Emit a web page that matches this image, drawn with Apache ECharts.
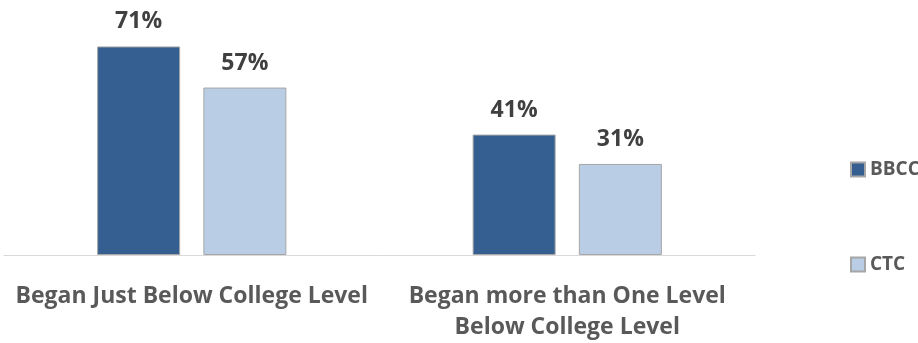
<!DOCTYPE html>
<html>
<head>
<meta charset="utf-8">
<script src="https://cdn.jsdelivr.net/npm/echarts@6/dist/echarts.min.js"></script>
<style>
  html, body { margin: 0; padding: 0; background: #fff; }
  #chart { width: 918px; height: 343px; }
</style>
</head>
<body>
<div id="chart"></div>
<script>
"use strict";
var categories = ['Began Just Below College Level', 'Began more than One Level\nBelow College Level'];
var seriesNames = ['BBCC', 'CTC'];
var bbcc = [71, 41];
var ctc = [57, 31];
var colors = ['#365f91', '#b9cde5'];

var font = '"Open Sans", Lato, sans-serif';

function makeSeries(name, data, color){
	return {
		name: name, type: 'bar', data: data,
		barWidth: 83, barGap: '28%',
		itemStyle: { color: color, borderColor: '#a6a6a6', borderWidth: 1 },
		label: { show: true, position: 'top', distance: 13,
			formatter: '{c}%', color: '#404040', fontWeight: 'bold', fontSize: 23, fontFamily: font }
	};
}

var chart = echarts.init(document.getElementById('chart'));
chart.setOption({
	animation: false,
	grid: { left: 4, right: 163, top: 20, bottom: 86, containLabel: false },
	legend: {
		orient: 'vertical', left: 845, top: 155, itemGap: 76,
		itemWidth: 14, itemHeight: 14, icon: 'rect',
		data: seriesNames,
		textStyle: { color: '#595959', fontWeight: 'bold', fontSize: 19, fontFamily: font }
	},
	xAxis: {
		type: 'category', data: categories,
		axisLine: { lineStyle: { color: '#d9d9d9', width: 1 } },
		axisTick: { show: false },
		axisLabel: { color: '#595959', fontWeight: 'bold', fontSize: 23, fontFamily: font,
			margin: 26, lineHeight: 31, interval: 0 }
	},
	yAxis: { type: 'value', min: 0, max: 80, show: false, splitLine: { show: false } },
	series: [makeSeries(seriesNames[0], bbcc, colors[0]), makeSeries(seriesNames[1], ctc, colors[1])]
});
</script>
</body>
</html>
